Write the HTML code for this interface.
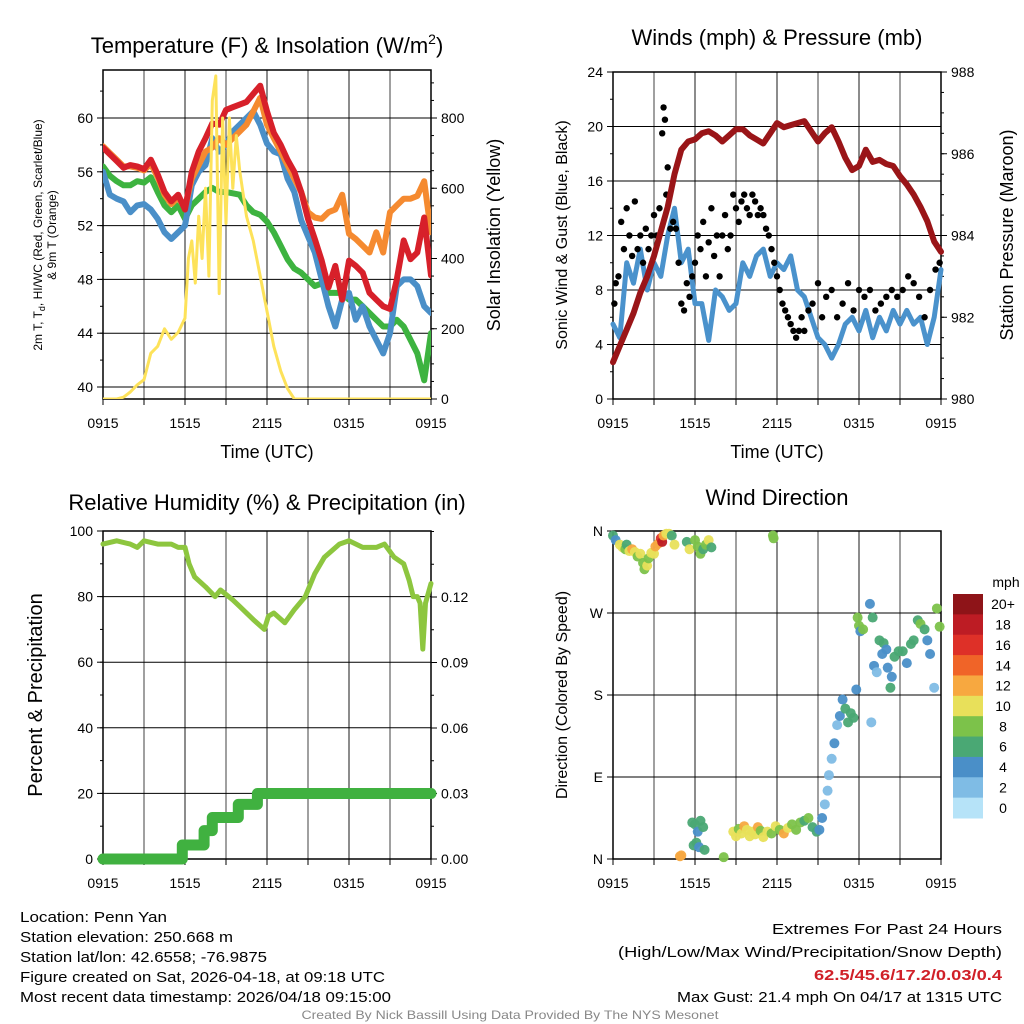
<!DOCTYPE html>
<html><head><meta charset="utf-8"><style>
html,body{margin:0;padding:0;background:#fff}
svg{display:block;font-family:"Liberation Sans",sans-serif}
</style></head><body>
<svg id="s" width="1024" height="1024" viewBox="0 0 1024 1024">
<g id="g"></g>
</svg>
<script>
// ---- data ----
const hours = [];
for (let i = 0; i <= 48; i++) hours.push(i * 0.5);
const tempRed = [57.8,57.3,56.8,56.3,56.5,56.4,56.2,56.9,55.8,54.5,53.8,54.3,53.2,56,57.5,58.5,59.6,59.5,60.6,60.8,61,61.2,61.8,62.4,60.5,58.9,58,56.9,56,54.5,52.5,51,49.4,47.4,49,46.5,49.4,49,48.5,47,46.5,46,45.8,48,50.9,49.5,50,52.6,48.3];
const tempOrange = [57.9,57.4,56.9,56.4,56.4,56.3,56.1,56.6,55.6,54.3,53.6,54.1,53.3,55.5,56.5,57.5,57.8,58.5,58,58.5,59,59.5,60.5,61.5,59.5,58.5,57.5,56.5,55.5,54.5,53,52.6,52.5,53,53.2,54.3,51.4,51,50.5,50,51.5,50,53,53.5,54,54,54.2,55.3,51.5];
const tempGreen = [56.4,55.7,55.3,55,55,55.3,55.2,55.6,54.5,53.5,53,53.5,52.5,53.5,54,54.5,54.8,54.5,54.5,54.4,54.3,53.5,53,52.8,52.3,51.5,50.5,49.5,48.8,48.5,48,47.5,47.7,47,47,47,46.5,46.5,46,45.5,45,44.5,44.5,45,44.5,43.5,42.5,40.5,44];
const tempBlue = [56,54.3,54,53.8,53,53.5,53.6,53.2,52.5,51.5,51,51.5,52,55,56,56.5,58.5,57.5,58,59,59.5,60,60.5,59.5,58.1,57.5,57.3,55.5,54.5,52.4,51.2,50,48,46,44.5,46.5,47,45,46,44.5,43.5,42.5,44,47.5,48,48,47.5,46,45.5];
const solarHours = [0,1,1.5,2,2.5,3,3.5,4,4.5,5,5.5,6,6.25,6.5,6.75,7,7.25,7.5,7.75,8,8.25,8.5,8.75,9,9.25,9.5,9.75,10,10.5,11,11.5,12,12.5,13,13.5,14,24];
const solarVals = [0,0,5,20,40,55,130,150,200,170,190,230,400,450,330,520,400,600,350,850,920,300,800,500,800,600,750,650,520,450,350,250,150,80,30,0,0];
const windHours = hours;
const windSonic = [5.5,4.5,10,8.5,11,8,10,9,12,14,10,11,7,7,4.3,8,7.5,6.5,7,10,9,10.5,11,9,10,9.5,10.5,8,7.5,6,4.5,4,3,4,5.5,6,5,6.5,4.5,6,5,6.5,5.5,6.5,5.5,6,4,6,9.5];
const pressure = [980.9,981.3,981.7,982.1,982.6,983.0,983.5,984.1,984.7,985.5,986.1,986.3,986.35,986.5,986.55,986.45,986.3,986.45,986.6,986.6,986.45,986.35,986.25,986.5,986.75,986.65,986.7,986.75,986.8,986.55,986.3,986.5,986.65,986.3,985.9,985.6,985.7,986.1,985.8,985.85,985.75,985.7,985.45,985.25,985.0,984.7,984.35,983.85,983.6];
const gustHours = [0.1,0.2,0.4,0.6,0.8,1.0,1.2,1.4,1.6,1.8,2.0,2.2,2.4,2.6,2.8,3.0,3.2,3.4,3.6,3.7,3.8,3.9,4.0,4.2,4.4,4.6,4.8,5.0,5.2,5.4,5.6,5.8,6.0,6.2,6.4,6.6,6.8,7.0,7.2,7.4,7.6,7.8,8.0,8.2,8.4,8.6,8.8,9.0,9.2,9.4,9.6,9.8,10.0,10.2,10.4,10.6,10.8,11.0,11.2,11.4,11.6,11.8,12.0,12.2,12.4,12.6,12.8,13.0,13.2,13.4,13.6,13.8,14.0,14.3,14.6,15.0,15.3,15.6,16.0,16.4,16.8,17.2,17.6,18.0,18.4,18.8,19.2,19.6,20.0,20.4,20.8,21.2,21.6,22.0,22.4,22.8,23.2,23.6,23.9];
const gustVals = [7,8.5,9,13,11,14,12,10.5,14.5,11,12,10,12.5,11,12,13.5,12,14,19.5,21.4,20.5,15,17,12.5,13,12.5,10,7,6.5,8.5,7.5,9,10,12,11,13,9,11.5,14,10.5,12,9,12,13.5,11,12,15,14,13,14.5,15,14,13.5,15,14.5,13.5,14,13.5,12.5,12,11,10,9,8,7,6.5,6,5.5,5,4.5,5,6,5,6.5,7,8.5,6,7.5,8,6,7,8.5,6.5,8,7.5,8,6.5,7,7.5,8,7.5,8,9,8.5,7.5,6,8,9.5,10];
const rhHours = [0,1,2,2.5,3,4,5,5.5,6,6.3,6.7,7.5,8.2,8.6,9.5,10,11,11.8,12.1,12.5,13.3,14,14.8,15.5,16.2,17.3,18,19,20,20.6,21.3,22,22.4,22.7,23,23.2,23.4,23.6,24];
const rhVals = [96,97,96,95,97,96,96,95,95,90,86,83,80,82,79,77,73,70,74,75,72,76,80,87,92,96,97,95,95,96,92,90,85,80,80,78,64,78,84];
const precipHours = [0,5.8,5.8,7.4,7.4,8.0,8.0,9.9,9.9,11.3,11.3,24];
const precipVals = [0,0,0.0064,0.0064,0.013,0.013,0.019,0.019,0.025,0.025,0.03,0.03];
const dirHours = [0.0,0.2,0.5,0.7,0.9,1.0,1.2,1.4,1.6,1.8,2.0,2.2,2.3,2.5,2.6,2.8,3.0,3.1,3.3,3.5,3.6,3.7,3.9,4.1,4.3,4.5,5.4,5.6,6.0,6.2,6.4,6.6,6.8,7.0,7.2,11.7,11.75,4.9,5.0,5.8,6.0,6.2,6.4,6.6,5.9,6.1,6.3,6.7,8.1,8.8,9.0,9.2,9.4,9.6,9.8,10.0,10.2,10.4,10.6,10.8,11.0,11.3,11.6,11.9,12.2,12.5,12.8,13.1,13.4,13.7,14.0,14.3,14.6,14.9,15.1,15.3,15.5,15.7,15.8,16.0,16.2,16.4,16.6,16.8,17.0,17.2,17.4,17.6,17.8,18.9,17.9,18.0,18.1,18.3,18.8,19.0,19.5,19.7,19.8,20.0,20.1,20.4,20.6,20.9,21.2,21.5,21.8,22.0,22.3,22.5,22.8,23.0,23.2,23.5,23.7,23.9,20.3,19.1,19.3];
const dirVals = [355,350,345,342,340,345,338,340,337,332,335,325,318,322,330,336,335,343,346,352,348,355,357,357,355,345,348,340,350,343,335,340,345,350,342,355,352,3,4,40,38,30,42,35,15,18,13,10,2,30,25,33,28,36,32,25,30,27,35,31,24,30,28,36,32,28,34,38,32,40,42,45,35,30,32,45,60,75,92,110,127,147,157,175,165,150,160,155,186,150,265,256,250,252,280,265,240,225,237,230,210,200,222,228,228,215,236,240,262,258,252,240,225,188,275,255,188,212,205];
const dirSpeeds = [6,4,10,10,8,6,10,12,10,8,10,8,8,10,8,10,10,12,13,16,18,12,10,10,6,10,6,10,8,8,8,6,8,10,6,8,8,13,12,6,6,4,6,6,6,6,5,7,8,10,10,9,10,12,10,11,10,10,12,9,10,10,8,10,8,12,10,9,8,8,6,8,7,6,4,4,2,2,2,3,4,3,4,4,6,6,6,7,4,2,8,8,4,8,4,6,6,4,6,4,4,4,6,6,6,4,6,6,6,8,6,4,4,2,8,8,6,4,2];
const cbLabels = ["20+","18","16","14","12","10","8","6","4","2","0"];
const cbColors = ["#8e1418","#bd1c24","#de3028","#f06428","#f7a840","#e8e05a","#7cc24a","#4aa874","#4a8fc8","#7fbce5","#b6e3f8"];
const timeLabels = ["0915","1515","2115","0315","0915"];
const tempTicks = [40,44,48,52,56,60];
const solarTicks = [0,200,400,600,800];
const windTicks = [0,4,8,12,16,20,24];
const presTicks = [980,982,984,986,988];
const rhTicks = [0,20,40,60,80,100];
const precipTicks = [0,0.03,0.06,0.09,0.12];
const dirTicks = [0,90,180,270,360];
const dirLabels = ["N","E","S","W","N"];

// ---- helpers ----
const NS = "http://www.w3.org/2000/svg";
const G = document.getElementById('g');
function mk(tag, attrs, parent, txt) {
  const e = document.createElementNS(NS, tag);
  for (const k in attrs) e.setAttribute(k, attrs[k]);
  if (txt !== undefined) e.textContent = txt;
  (parent || G).appendChild(e);
  return e;
}
function lin(d0, d1, r0, r1) { return v => r0 + (v - d0) / (d1 - d0) * (r1 - r0); }

function panel(name, x0, x1, y0, y1, yL, ticksL, labelsL, yR, ticksR, labelsR, minorL, minorR) {
  const g = mk('g', {});
  
  
  const xs = lin(0, 24, x0, x1);
  for (let h = 0; h <= 24; h += 3) {
    const l = mk('line', {x1: xs(h), x2: xs(h), y1: y0, y2: y1, stroke: '#000', 'stroke-width': 1, 'stroke-opacity': h % 6 ? 0.75 : 0.9}, g);
    
    
    mk('line', {x1: xs(h), x2: xs(h), y1: y1, y2: y1 + 6, stroke: '#000'}, g);
  }
  ticksL.forEach((t, i) => {
    const y = yL(t);
    const l = mk('line', {x1: x0, x2: x1, y1: y, y2: y, stroke: '#000', 'stroke-width': 1}, g);
    
    
    mk('line', {x1: x0 - 6, x2: x0, y1: y, y2: y, stroke: '#000'}, g);
    const tx = mk('text', {x: x0 - 10, y: y + 5, 'text-anchor': 'end', 'font-size': 14}, g, labelsL[i]);
    
    
  });
  if (minorL) minorL.forEach(t => mk('line', {x1: x0 - 3, x2: x0, y1: yL(t), y2: yL(t), stroke: '#000'}, g));
  if (yR) {
    ticksR.forEach((t, i) => {
      const y = yR(t);
      mk('line', {x1: x1, x2: x1 + 6, y1: y, y2: y, stroke: '#000'}, g);
      const tx = mk('text', {x: x1 + 10, y: y + 5, 'text-anchor': 'start', 'font-size': 14}, g, labelsR[i]);
      
      
    });
    if (minorR) minorR.forEach(t => mk('line', {x1: x1, x2: x1 + 3, y1: yR(t), y2: yR(t), stroke: '#000'}, g));
  }
  mk('rect', {x: x0, y: y0, width: x1 - x0, height: y1 - y0, fill: 'none', stroke: '#000', 'stroke-width': 1.5}, g);
  timeLabels.forEach((t, i) => {
    const tx = mk('text', {x: xs(i * 6), y: y1 + 29, 'text-anchor': 'middle', 'font-size': 14}, g, t);
    
    
  });
  return {g, xs};
}
function line(g, xs, ys, xd, yd, color, w, name) {
  const p = xd.map((h, i) => xs(h).toFixed(1) + ',' + ys(yd[i]).toFixed(1)).join(' ');
  const e = mk('polyline', {points: p, fill: 'none', stroke: color, 'stroke-width': w, 'stroke-linejoin': 'round', 'stroke-linecap': 'round'}, g);
  
  
  return e;
}
function text(x, y, s, size, opts, name) {
  const a = Object.assign({x, y, 'font-size': size, 'text-anchor': 'middle'}, opts || {});
  const e = mk('text', a, G, s);
  
  
  return e;
}
function range(a, b, s) { const r = []; for (let v = a; v <= b + 1e-9; v += s) r.push(v); return r; }

// ---- Panel 1: temperature ----
{
  const yT = lin(40, 60, 387, 118);
  const yS = lin(0, 800, 399, 118);
  const P = panel('temperature-panel', 103, 431, 70, 399, yT, tempTicks, tempTicks.map(String), yS, solarTicks, solarTicks.map(String), range(40, 62, 2), range(0, 900, 50));
  const clip = mk('clipPath', {id: 'c1'}, P.g); mk('rect', {x: 103, y: 60, width: 328, height: 339}, clip);
  const cg = mk('g', {'clip-path': 'url(#c1)'}, P.g);
  line(cg, P.xs, yT, hours, tempGreen, '#3db340', 6, 'dewpoint-line');
  line(cg, P.xs, yT, hours, tempBlue, '#4a8fc8', 6, 'heat-index-wind-chill-line');
  line(cg, P.xs, yT, hours, tempOrange, '#f58a30', 6, 'temp-9m-line');
  line(cg, P.xs, yT, hours, tempRed, '#d7202a', 6, 'temp-2m-line');
  line(cg, P.xs, yS, solarHours, solarVals, '#fde25a', 3, 'solar-insolation-line');
  const t = text(267, 53, 'Temperature (F) & Insolation (W/m', 22, {}, 'temperature-title');
  mk('tspan', {dy: -9, 'font-size': 14}, t, '2');
  mk('tspan', {dy: 9}, t, ')');
  text(267, 458, 'Time (UTC)', 18, {}, 'x-axis-title');
  text(0, 0, 'Solar Insolation (Yellow)', 18, {transform: 'translate(500,235) rotate(-90)'}, 'right-axis-title');
  const l1 = text(0, 0, '', 12, {transform: 'translate(42,235) rotate(-90)'}, 'left-axis-title');
  l1.textContent = '2m T, T';
  mk('tspan', {'font-size': 9, dy: 3}, l1, 'd');
  mk('tspan', {dy: -3}, l1, ', HI/WC (Red, Green, Scarlet/Blue)');
  text(0, 0, '& 9m T (Orange)', 12, {transform: 'translate(56,235) rotate(-90)'}, 'left-axis-title-line2');
}
// ---- Panel 2: winds ----
{
  const yW = lin(0, 24, 399, 72);
  const yP = lin(980, 988, 399, 72);
  const P = panel('winds-panel', 613, 941, 72, 399, yW, windTicks, windTicks.map(String), yP, presTicks, presTicks.map(String), range(0, 24, 2), range(980, 988, 0.5));
  line(P.g, P.xs, yW, windHours, windSonic, '#4a92cc', 5, 'sonic-wind-line');
  gustHours.forEach((h, i) => {
    const c = mk('circle', {cx: P.xs(h), cy: yW(gustVals[i]), r: 3.2, fill: '#000'}, P.g);
    
    
  });
  line(P.g, P.xs, yP, hours, pressure, '#9a1518', 6, 'pressure-line');
  text(777, 45, 'Winds (mph) & Pressure (mb)', 22, {}, 'winds-title');
  text(777, 458, 'Time (UTC)', 18, {}, 'x-axis-title');
  text(0, 0, 'Sonic Wind & Gust (Blue, Black)', 16, {transform: 'translate(567,235) rotate(-90)'}, 'left-axis-title');
  text(0, 0, 'Station Pressure (Maroon)', 18, {transform: 'translate(1013,235) rotate(-90)'}, 'right-axis-title');
}
// ---- Panel 3: humidity ----
{
  const yR = lin(0, 100, 859, 531);
  const yPr = lin(0, 0.12, 859, 597);
  const P = panel('humidity-panel', 103, 431, 531, 859, yR, rhTicks, rhTicks.map(String), yPr, precipTicks, precipTicks.map(v => v.toFixed(2)), range(0, 100, 10), range(0, 0.15, 0.015));
  line(P.g, P.xs, yPr, precipHours, precipVals, '#40b140', 11, 'precipitation-line');
  line(P.g, P.xs, yR, rhHours, rhVals, '#8dc63f', 5, 'relative-humidity-line');
  text(267, 510, 'Relative Humidity (%) & Precipitation (in)', 22, {}, 'humidity-title');
  text(0, 0, 'Percent & Precipitation', 20, {transform: 'translate(42,695) rotate(-90)'}, 'left-axis-title');
}
// ---- Panel 4: wind direction ----
{
  const yD = lin(0, 360, 859, 531);
  const P = panel('wind-direction-panel', 613, 941, 531, 859, yD, dirTicks, dirLabels, null, null, null, null, null);
  function colorFor(s) { const idx = Math.min(10, Math.floor(s / 2)); return cbColors[10 - idx]; }
  dirHours.forEach((h, i) => {
    const c = mk('circle', {cx: P.xs(h), cy: yD(dirVals[i]), r: 5, fill: colorFor(dirSpeeds[i]), 'fill-opacity': 0.95}, P.g);
    
    
  });
  text(777, 505, 'Wind Direction', 22, {}, 'wind-direction-title');
  text(0, 0, 'Direction (Colored By Speed)', 16, {transform: 'translate(567,695) rotate(-90)'}, 'left-axis-title');
  const cb = mk('g', {}, G);
  
  
  const bh = (818 - 594) / cbColors.length;
  cbColors.forEach((c, i) => {
    mk('rect', {x: 953, y: 594 + i * bh, width: 30, height: bh + 0.5, fill: c}, cb);
    const t = mk('text', {x: 1003, y: 594 + i * bh + bh / 2 + 5, 'font-size': 14, 'text-anchor': 'middle'}, cb, cbLabels[i]);
    
    
  });
  text(1006, 587, 'mph', 14, {}, 'colorbar-title');
}
// ---- footer ----
const fl = [['Location: Penn Yan', 917, 147], ['Station elevation: 250.668 m', 937, 213], ['Station lat/lon: 42.6558; -76.9875', 957, 247], ['Figure created on Sat, 2026-04-18, at 09:18 UTC', 977, 365], ['Most recent data timestamp: 2026/04/18 09:15:00', 997, 371]];
fl.forEach(f => text(20, f[1] + 5, f[0], 15, {'text-anchor': 'start', textLength: f[2], lengthAdjust: 'spacingAndGlyphs'}, 'station-info'));
const fr = [['Extremes For Past 24 Hours', 929, 230, '#000', 'normal'], ['(High/Low/Max Wind/Precipitation/Snow Depth)', 952, 384, '#000', 'normal'], ['62.5/45.6/17.2/0.03/0.4', 975, 188, '#d02028', 'bold'], ['Max Gust: 21.4 mph On 04/17 at 1315 UTC', 997, 325, '#000', 'normal']];
fr.forEach(f => text(1002, f[1] + 5, f[0], 15, {'text-anchor': 'end', fill: f[3], 'font-weight': f[4], textLength: f[2], lengthAdjust: 'spacingAndGlyphs'}, 'extremes-info'));
text(510, 1019, 'Created By Nick Bassill Using Data Provided By The NYS Mesonet', 12, {fill: '#888', textLength: 417, lengthAdjust: 'spacingAndGlyphs'}, 'credit-line');
</script>
</body></html>
